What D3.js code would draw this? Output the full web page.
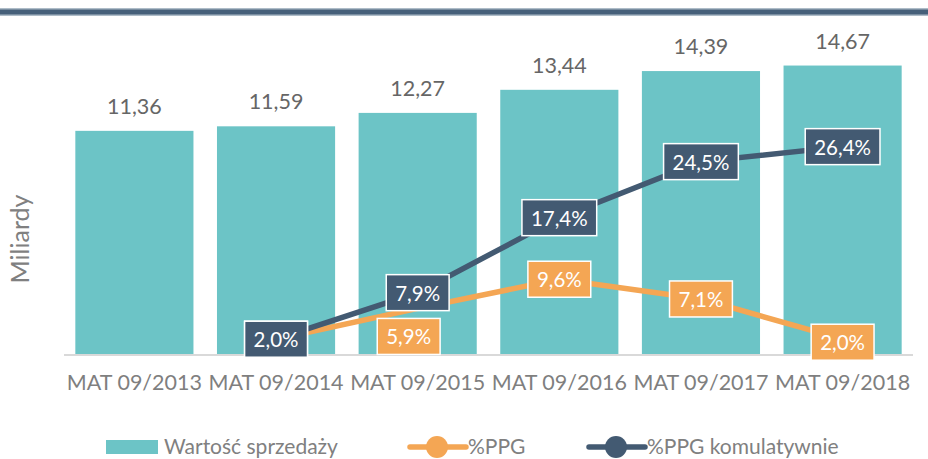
<!DOCTYPE html>
<html><head><meta charset="utf-8">
<script src="https://cdn.jsdelivr.net/npm/d3@7"></script>
<style>body{margin:0;background:#fff}svg{display:block}</style>
</head><body>
<svg id="c" width="928" height="459"></svg>
<script>
const categories = ["MAT 09/2013","MAT 09/2014","MAT 09/2015","MAT 09/2016","MAT 09/2017","MAT 09/2018"];
const salesValues = [11.36, 11.59, 12.27, 13.44, 14.39, 14.67];
const ppgValues = [null, 2.0, 5.9, 9.6, 7.1, 2.0];
const ppgCumValues = [null, 2.0, 7.9, 17.4, 24.5, 26.4];
const legendLabels = ["Wartość sprzedaży", "%PPG", "%PPG komulatywnie"];
const yAxisTitle = "Miliardy";

const fmt = v => v.toFixed(2).replace(".", ",");
const fmtPct = v => v.toFixed(1).replace(".", ",") + "%";

const svg = d3.select("#c");
const FONT = "Lato, 'Open Sans', sans-serif";
const teal = "#6cc4c6", orange = "#f4a654", dark = "#435a72";

// top band
svg.append("rect").attr("x",0).attr("y",8).attr("width",928).attr("height",8).attr("fill","#aebcc8");
svg.append("rect").attr("x",0).attr("y",9.5).attr("width",928).attr("height",5).attr("fill","#46607a");

const x = d3.scaleBand().domain(categories).range([64, 913]).paddingInner(0.166).paddingOuter(0.08);
const y = d3.scaleLinear().domain([0, 16]).range([355, 39.3]);
const y2 = d3.scaleLinear().domain([0, 40]).range([355, 39.3]);

// bars
svg.append("g").selectAll("rect").data(salesValues).join("rect")
  .attr("x", (d,i) => x(categories[i]))
  .attr("y", d => y(d))
  .attr("width", x.bandwidth())
  .attr("height", d => y(0) - y(d))
  .attr("fill", teal);

// value labels
svg.append("g").selectAll("text").data(salesValues).join("text")
  .attr("x", (d,i) => x(categories[i]) + x.bandwidth()/2)
  .attr("y", d => y(d) - 17)
  .attr("text-anchor","middle")
  .attr("font-family", FONT).attr("font-size", 21.5).attr("fill", "#666")
  .text(d => fmt(d));

// x axis
const xAxis = svg.append("g").attr("transform","translate(0,355)")
  .call(d3.axisBottom(x).tickSize(0).tickPadding(20));
xAxis.select(".domain").attr("stroke","#d9d9d9").attr("stroke-width",2)
  .attr("d","M64,0H913");
xAxis.selectAll("text").attr("font-family",FONT).attr("font-size",21.5).attr("fill","#7f7f7f");

// y axis title
svg.append("text").attr("transform","translate(29,239) rotate(-90)")
  .attr("text-anchor","middle").attr("font-family",FONT).attr("font-size",25)
  .attr("fill","#808080").text(yAxisTitle);

const cx = i => x(categories[i]) + x.bandwidth()/2;
const line = d3.line().defined(d => d.v != null).x(d => cx(d.i)).y(d => y2(d.v));

const ppgData = ppgValues.map((v,i) => ({v,i}));
const cumData = ppgCumValues.map((v,i) => ({v,i}));

svg.append("path").datum(ppgData).attr("d", line).attr("fill","none")
  .attr("stroke", orange).attr("stroke-width",5.5).attr("stroke-linecap","round");
svg.append("path").datum(cumData).attr("d", line).attr("fill","none")
  .attr("stroke", dark).attr("stroke-width",5.5).attr("stroke-linecap","round");

function labels(data, color, offsets) {
  const g = svg.append("g");
  data.filter(d => d.v != null).forEach(d => {
    const off = offsets[d.i] || [0,0];
    const px = cx(d.i) + off[0], py = y2(d.v) + off[1];
    const t = g.append("text").attr("x", px).attr("y", py)
      .attr("text-anchor","middle").attr("dominant-baseline","central")
      .attr("font-family",FONT).attr("font-size",20.5).attr("fill","#fff").text(fmtPct(d.v));
    const w = t.node().getComputedTextLength();
    g.insert("rect", "text").attr("x", px - w/2 - 9).attr("y", py - 18)
      .attr("width", w + 18).attr("height", 36)
      .attr("fill", color).attr("stroke","#fff").attr("stroke-width",1.5);
  });
}
labels(ppgData, orange, {2: [-9, 28], 5: [0, 3]});
labels(cumData, dark, {});

// legend
const lg = svg.append("g");
lg.append("rect").attr("x",106).attr("y",440).attr("width",52).attr("height",14).attr("fill",teal);
lg.append("text").attr("x",164).attr("y",454).attr("font-family",FONT).attr("font-size",21)
  .attr("fill","#808080").text(legendLabels[0]);
[[410, orange, legendLabels[1]], [589, dark, legendLabels[2]]].forEach(([lx, col, lab]) => {
  lg.append("line").attr("x1",lx).attr("x2",lx+56).attr("y1",447).attr("y2",447)
    .attr("stroke",col).attr("stroke-width",5.5).attr("stroke-linecap","round");
  lg.append("circle").attr("cx",lx+27).attr("cy",447).attr("r",11).attr("fill",col);
  lg.append("text").attr("x",lx+58).attr("y",454).attr("font-family",FONT).attr("font-size",21)
    .attr("fill","#808080").text(lab);
});
</script>
</body></html>
